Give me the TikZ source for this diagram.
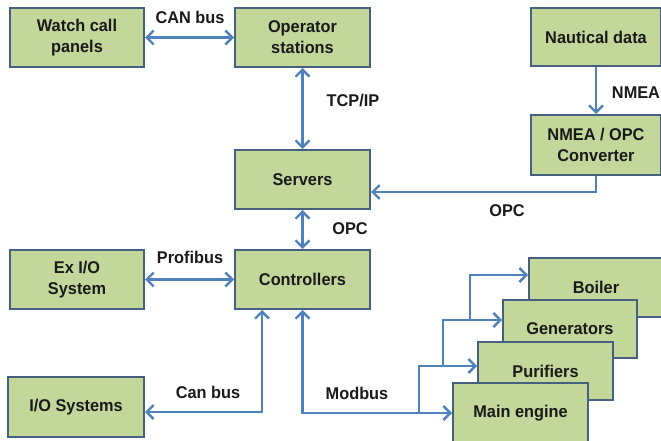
\documentclass[tikz,border=0pt]{standalone}
\usepackage{fontspec}
\setmainfont{Liberation Sans}[FakeStretch=0.96]
\usetikzlibrary{arrows.meta}
\definecolor{boxfill}{HTML}{C4D79B}
\definecolor{boxline}{HTML}{46607F}
\definecolor{arrcol}{HTML}{4F81BD}
\definecolor{txt}{HTML}{1A1A1A}
\tikzset{
  box/.style={draw=boxline, fill=boxfill, line width=2pt, align=center,
    font=\fontsize{17}{21}\selectfont\bfseries, text=txt, inner sep=0pt},
  lbl/.style={font=\fontsize{17}{21}\selectfont\bfseries, text=txt},
  tipb/.tip={Straight Barb[length=7pt,width=14pt,line width=2.4pt]},
  arr/.style={draw=arrcol, line width=2.8pt, arrows={-tipb}},
  darr/.style={draw=arrcol, line width=2.8pt, arrows={tipb-tipb}}
}
\begin{document}
\begin{tikzpicture}[x=1pt,y=-1pt]
\useasboundingbox (0,0) rectangle (661,441);
\clip (0,0) rectangle (661,441);
\fill[white] (0,0) rectangle (661,441);
% boxes
\node[box, minimum width=134pt, minimum height=59pt] (watch) at (77,37.5) {Watch call\\panels};
\node[box, minimum width=135pt, minimum height=59pt] (oper) at (302.5,37.5) {Operator\\stations};
\node[box, minimum width=135pt, minimum height=59pt] (serv) at (302.5,179.5) {Servers};
\node[box, minimum width=135pt, minimum height=59pt] (ctrl) at (302.5,279.5) {Controllers};
\node[box, minimum width=134pt, minimum height=59pt] (exio) at (77,279.5) {Ex I/O\\System};
\node[box, minimum width=136pt, minimum height=60pt] (io) at (76,407) {I/O Systems};
\node[box, minimum width=130pt, minimum height=58pt] (naut) at (596,37) {Nautical data};
\node[box, minimum width=130pt, minimum height=60pt] (conv) at (596,145) {NMEA / OPC\\Converter};
\node[box, minimum width=134pt, minimum height=59pt] (boiler) at (596,287.5) {Boiler};
\node[box, minimum width=134pt, minimum height=58pt] (gen) at (570,329) {Generators};
\node[box, minimum width=135pt, minimum height=58pt] (pur) at (545.5,371) {Purifiers};
\node[box, minimum width=135pt, minimum height=60pt] (main) at (520.5,413) {Main engine};
% labels
\node[lbl] (l1) at (190,17) {CAN bus};
\node[lbl] (l2) at (353,101) {TCP/IP};
\node[lbl] (l3) at (636,93) {NMEA};
\node[lbl] (l4) at (507,211) {OPC};
\node[lbl] (l5) at (350,229) {OPC};
\node[lbl] (l6) at (190,257) {Profibus};
\node[lbl] (l7) at (208,392) {Can bus};
\node[lbl] (l8) at (357,393) {Modbus};
% connectors
\draw[darr] (watch) -- (oper);
\draw[darr] (oper) -- (serv);
\draw[darr] (serv) -- (ctrl);
\draw[arr] (naut) -- (conv);
\draw[arr] (conv.south) |- (serv.east |- 0,192);
\draw[darr] (exio) -- (ctrl);
\draw[darr] (ctrl.south -| 262,0) |- (io.east |- 0,412);
\draw[darr] (ctrl.south) |- (main.west);
\coordinate (b1) at (419,413);
\coordinate (b2) at (443,366);
\coordinate (b3) at (470,320);
\draw[arr] (b1) |- (pur.west |- 0,366);
\draw[arr] (b2) |- (gen.west |- 0,320);
\draw[arr] (b3) |- (boiler.west |- 0,275);
\end{tikzpicture}
\end{document}
